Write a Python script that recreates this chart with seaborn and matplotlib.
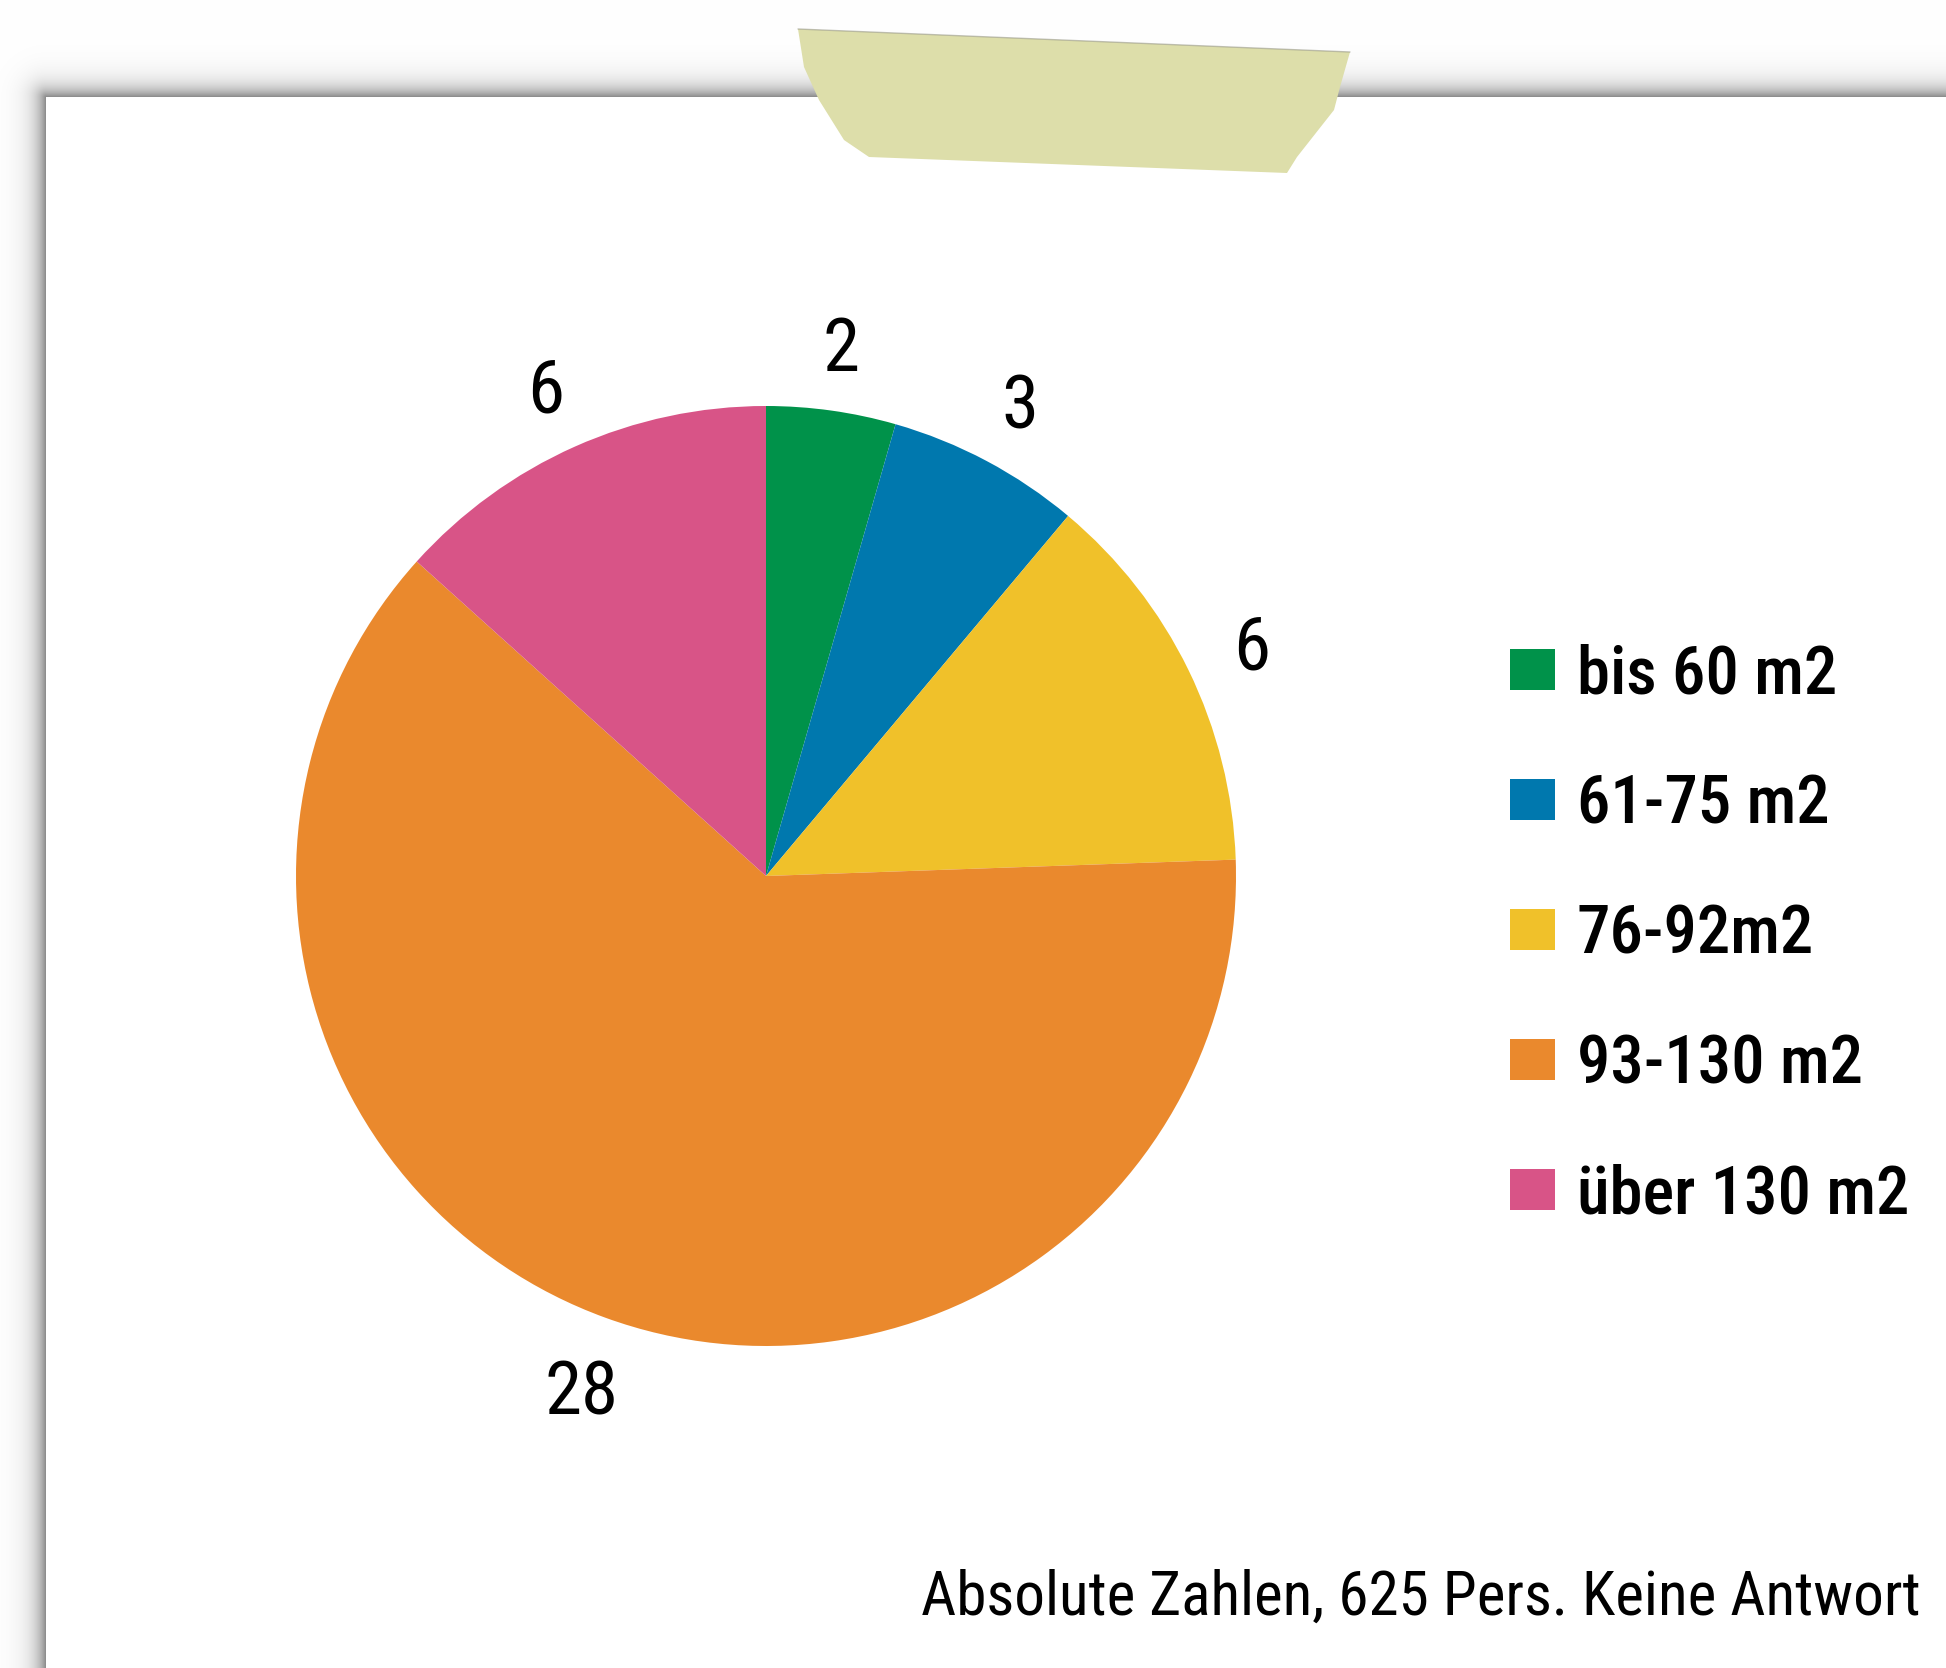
import numpy as np
import matplotlib
matplotlib.use("Agg")
import matplotlib.pyplot as plt
from matplotlib import font_manager as fm
from matplotlib.patches import Polygon
from matplotlib.transforms import ScaledTranslation
import seaborn as sns

# Living-space survey: answers per size class
categories = ["bis 60 m2", "61-75 m2", "76-92m2", "93-130 m2", "über 130 m2"]
counts = [2, 3, 6, 28, 6]
colors = ["#00924A", "#0078AE", "#F0C12A", "#EA892D", "#D85487"]
footer = "Absolute Zahlen, 625 Pers. Keine Antwort"

sns.set_theme(style="white")

available = {f.name for f in fm.fontManager.ttflist}
family = next((n for n in ["Roboto Condensed", "Liberation Sans Narrow",
                           "Open Sans Condensed", "DejaVu Sans"] if n in available),
              "DejaVu Sans")
plt.rcParams["font.family"] = [family, "DejaVu Sans"]
plt.rcParams["text.color"] = "black"
stretch = "condensed"

W, H = 1946, 1668
fig = plt.figure(figsize=(W / 100, H / 100), dpi=100)
fig.patch.set_facecolor("white")

# Background layer: sheet of paper with a soft drop shadow and a strip of tape
bg = fig.add_axes([0, 0, 1, 1])
bg.set_xlim(0, W)
bg.set_ylim(H, 0)
bg.axis("off")
x0, y0 = 46, 97
xx, yy = np.meshgrid(np.arange(W) + 0.5, np.arange(H) + 0.5)
dist = np.hypot(np.clip(x0 - xx, 0, None), np.clip(y0 - yy, 0, None))
shade = np.where(dist > 0, 0.46 * np.exp(-dist / 11.0), 0.0)
img = np.repeat((1.0 - shade)[..., None], 3, axis=2)
bg.imshow(img, extent=(0, W, H, 0), interpolation="bilinear", aspect="auto", zorder=0)

tape = [(798, 29), (1350, 52), (1340, 87), (1334, 110), (1297, 157), (1287, 173),
        (869, 157), (844, 140), (819, 100), (804, 67)]
bg.add_patch(Polygon(tape, closed=True, facecolor="#DDDEAA", edgecolor="none", zorder=2))
bg.plot([798, 1350], [29, 52], color="#9A9A8A", lw=1.0, alpha=0.6, zorder=3)

# Pie chart
ax = fig.add_axes([202 / W, 228 / H, 1128 / W, 1128 / H])
total = sum(counts)
wedges, texts, autotexts = ax.pie(
    counts, colors=colors, startangle=90, counterclock=False,
    autopct=lambda p: f"{p * total / 100:.0f}", pctdistance=1.15,
    wedgeprops=dict(linewidth=0),
    textprops=dict(fontsize=54, color="black", fontstretch=stretch),
)
# nudge the value labels so the digits (not their descent box) sit on the ray
shift = ScaledTranslation(0, -7 / 72, fig.dpi_scale_trans)
for t in autotexts:
    t.set_transform(t.get_transform() + shift)
ax.set_xlim(-1.2, 1.2)
ax.set_ylim(-1.2, 1.2)
ax.set_facecolor("none")

fig.legend(
    wedges, categories, loc="upper left",
    bbox_to_anchor=(1510 / W, 1 - 643 / H), bbox_transform=fig.transFigure,
    frameon=False, handlelength=0.67, handleheight=0.57,
    handletextpad=0.33, labelspacing=0.99, borderpad=0, borderaxespad=0,
    labelcolor="black",
    prop=dict(size=48, stretch=stretch, weight=500),
)

fig.text(1921 / W, (H - 1615) / H, footer, ha="right", va="baseline",
         fontsize=44, fontstretch=stretch, color="black")

fig.savefig("out.png", dpi=100, facecolor="white")
